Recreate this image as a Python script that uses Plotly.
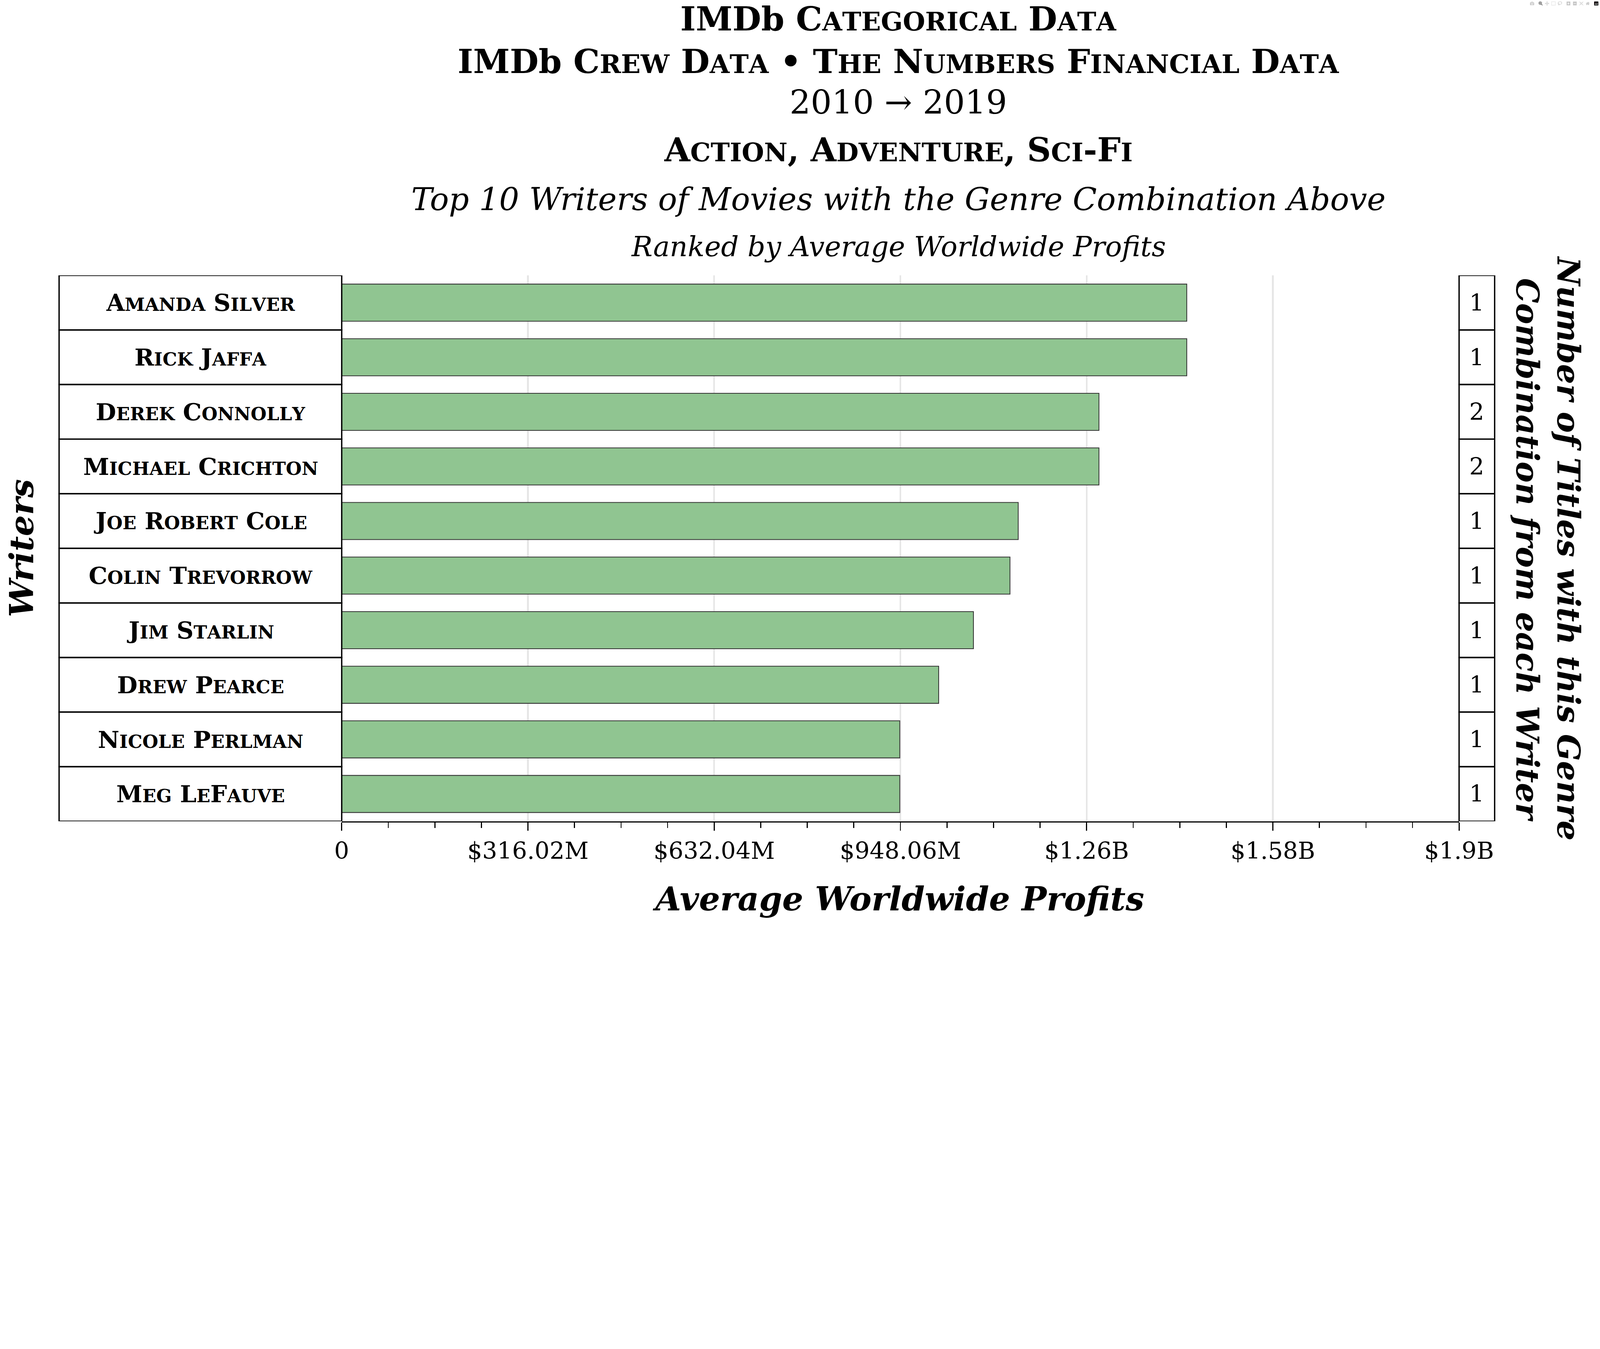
import plotly.graph_objects as go

writers = ["Amanda Silver", "Rick Jaffa", "Derek Connolly", "Michael Crichton", "Joe Robert Cole",
           "Colin Trevorrow", "Jim Starlin", "Drew Pearce", "Nicole Perlman", "Meg LeFauve"]
profits = [1.434e9, 1.434e9, 1.285e9, 1.285e9, 1.148e9, 1.134e9, 1.072e9, 1.013e9, 0.947e9, 0.947e9]
counts = [1, 1, 2, 2, 1, 1, 1, 1, 1, 1]
tick_vals = [0, 316.02e6, 632.04e6, 948.06e6, 1.26408e9, 1.5801e9, 1.89612e9]
tick_text = ["0", "$316.02M", "$632.04M", "$948.06M", "$1.26B", "$1.58B", "$1.9B"]

W, H = 5984, 3454
L, R, T, B = 1278, 5457, 1030, 3072
FONT = "DejaVu Serif"

def py(y):
    return (B - y) / (B - T)

def px(x):
    return (x - L) / (R - L)

def sc(text, size):
    out = []
    for w in text.split(" "):
        parts = ""
        for ch in w:
            if ch.isupper() or not ch.isalpha():
                parts += f"<span style='font-size:{size}px'>{ch}</span>"
            else:
                parts += f"<span style='font-size:{int(size*0.78)}px'>{ch.upper()}</span>"
        out.append(parts)
    return " ".join(out)

fig = go.Figure(go.Bar(
    y=writers, x=profits, orientation="h", width=0.68,
    marker=dict(color="#90c591", line=dict(color="#333333", width=3)),
))

shapes = []
ann = []
for i, (w, c) in enumerate(zip(writers, counts)):
    shapes.append(dict(type="rect", xref="paper", yref="y", x0=px(221), x1=0,
                       y0=i - 0.5, y1=i + 0.5, line=dict(color="black", width=5)))
    shapes.append(dict(type="rect", xref="paper", yref="y", x0=1, x1=px(5590),
                       y0=i - 0.5, y1=i + 0.5, line=dict(color="black", width=5)))
    ann.append(dict(xref="paper", yref="y", x=px(750), y=i, text="<b>" + sc(w, 88) + "</b>",
                    xanchor="center", showarrow=False, font=dict(family=FONT, size=88, color="black")))
    ann.append(dict(xref="paper", yref="y", x=px(5523), y=i, text=str(c), xanchor="center",
                    showarrow=False, font=dict(family=FONT, size=88, color="black")))

titles = [
    (70, "<b>IMDb " + sc("Categorical Data", 124) + "</b>", 124),
    (230, "<b>IMDb " + sc("Crew Data", 124) + " • " + sc("The Numbers Financial Data", 124) + "</b>", 124),
    (382, "2010 → 2019", 124),
    (560, "<b>" + sc("Action, Adventure, Sci-Fi", 124) + "</b>", 124),
    (745, "<i>Top 10 Writers of Movies with the Genre Combination Above</i>", 118),
    (923, "<i>Ranked by Average Worldwide Profits</i>", 104),
]
for y, t, s in titles:
    ann.append(dict(xref="paper", yref="paper", x=px(3360), y=py(y), text=t, showarrow=False,
                    xanchor="center", font=dict(family=FONT, size=s, color="black"), yanchor="middle"))

ann.append(dict(xref="paper", yref="paper", x=px(3360), y=py(3362), xanchor="center", yanchor="middle",
                text="<b><i>Average Worldwide Profits</i></b>", showarrow=False,
                font=dict(family=FONT, size=124, color="black")))
ann.append(dict(xref="paper", yref="paper", x=px(80), y=0.5, text="<b><i>Writers</i></b>",
                xanchor="center", textangle=-90, showarrow=False,
                font=dict(family=FONT, size=124, color="black")))
ann.append(dict(xref="paper", yref="paper", x=px(5790), y=0.5, xanchor="center",
                text="<b><i>Number of Titles with this Genre<br>Combination from each Writer</i></b>",
                textangle=90, showarrow=False, font=dict(family=FONT, size=118, color="black")))

fig.update_layout(
    width=W, height=H, margin=dict(l=L, r=W - R, t=T, b=H - B),
    plot_bgcolor="white", paper_bgcolor="white", showlegend=False,
    shapes=shapes, annotations=ann,
    xaxis=dict(range=[0, 1.89612e9], tickvals=tick_vals, ticktext=tick_text,
               showgrid=True, gridcolor="#e6e6e6", gridwidth=6,
               showline=True, linecolor="black", linewidth=5,
               ticks="outside", ticklen=30, tickwidth=4, tickcolor="black",
               minor=dict(tickvals=[i * 79.005e6 for i in range(25) if i % 4], ticks="outside",
                          ticklen=20, tickwidth=4, tickcolor="black", showgrid=False),
               tickfont=dict(family=FONT, size=88, color="black"), zeroline=False),
    yaxis=dict(range=[9.5, -0.5], showticklabels=False, showgrid=False, showline=False, ticks=""),
)

post = """
var d=document.getElementById('{plot_id}');
document.body.style.margin='0';
document.body.style.overflow='hidden';
var s=Math.min(window.innerWidth/5984, window.innerHeight/3454);
d.style.transformOrigin='0 0';
d.style.transform='scale('+s+')';
"""
fig.write_html("out.html", post_script=post)
